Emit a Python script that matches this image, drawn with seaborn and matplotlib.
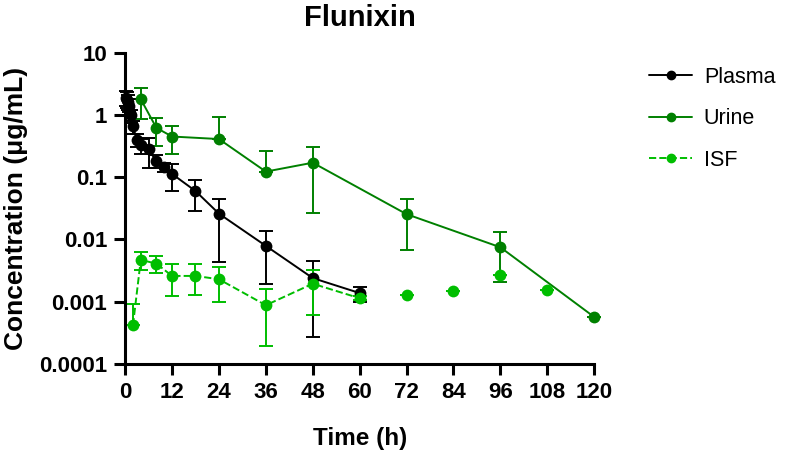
import matplotlib
matplotlib.use("Agg")
import matplotlib.pyplot as plt
import matplotlib.ticker as mticker
import numpy as np
import pandas as pd
import seaborn as sns

# Plasma (mean, lower / upper error ends)
plasma_time = [0.25, 0.5, 0.75, 1, 1.5, 2, 3, 4, 6, 8, 10, 12, 18, 24, 36, 48, 60]
plasma_conc = [1.9, 1.75, 1.6, 1.4, 1.0, 0.67, 0.39, 0.33, 0.28, 0.18, 0.145,
               0.113, 0.060, 0.026, 0.0079, 0.0024, 0.00138]
plasma_low = [1.4, 1.3, 1.2, 1.1, 0.75, 0.5, 0.3, 0.24, 0.14, 0.14, 0.12,
              0.061, 0.029, 0.0044, 0.0019, 0.00027, 0.00100]
plasma_high = [2.4, 2.3, 2.1, 1.8, 1.2, 0.8, 0.5, 0.41, 0.42, 0.23, 0.17,
               0.16, 0.091, 0.045, 0.0136, 0.0045, 0.0017]

# Urine
urine_time = [4, 8, 12, 24, 36, 48, 72, 96, 120]
urine_conc = [1.79, 0.62, 0.45, 0.41, 0.123, 0.171, 0.0255, 0.0075, 0.00057]
urine_low = [0.85, 0.32, 0.24, 0.41, 0.123, 0.027, 0.0068, 0.0021, 0.00057]
urine_high = [2.74, 0.90, 0.66, 0.93, 0.264, 0.31, 0.044, 0.0131, 0.00057]

# ISF (line drawn up to 60 h, later samples shown as points only)
isf_time = [2, 4, 8, 12, 18, 24, 36, 48, 60, 72, 84, 96, 108]
isf_conc = [0.00042, 0.0047, 0.0041, 0.0026, 0.0026, 0.0023, 0.00088, 0.00195,
            0.00114, 0.00128, 0.0015, 0.0027, 0.00155]
isf_low = [0.00042, 0.0032, 0.0029, 0.00126, 0.0013, 0.00099, 0.000195, 0.00062,
           0.00105, 0.00128, 0.0015, 0.0027, 0.00155]
isf_high = [0.00092, 0.0064, 0.0054, 0.0040, 0.0040, 0.0036, 0.00159, 0.0032,
            0.00125, 0.00128, 0.0015, 0.0027, 0.00155]
isf_line_until = 60

y_ticks = [0.0001, 0.001, 0.01, 0.1, 1, 10]
y_tick_labels = ["0.0001", "0.001", "0.01", "0.1", "1", "10"]
x_ticks = list(range(0, 121, 12))

sns.set_style("ticks")
plt.rcParams["font.family"] = ["Liberation Sans", "DejaVu Sans"]
for key in ["text.color", "axes.labelcolor", "xtick.color", "ytick.color",
            "axes.edgecolor"]:
    plt.rcParams[key] = "black"

fig, ax = plt.subplots(figsize=(7.87, 4.5), dpi=100)
fig.subplots_adjust(left=0.159, right=0.755, top=0.883, bottom=0.191)

series = [
    ("Plasma", plasma_time, plasma_conc, plasma_low, plasma_high, "black", "-"),
    ("Urine", urine_time, urine_conc, urine_low, urine_high, "#008000", "-"),
    ("ISF", isf_time, isf_conc, isf_low, isf_high, "#00BE00", "--"),
]

handles = []
for name, t, c, lo, hi, color, ls in series:
    df = pd.DataFrame({"t": t, "c": c, "lo": lo, "hi": hi})
    yerr = np.array([df["c"] - df["lo"], df["hi"] - df["c"]])
    ax.errorbar(df["t"], df["c"], yerr=yerr, fmt="none", ecolor=color,
                elinewidth=1.4, capsize=5, capthick=1.4, clip_on=False, zorder=2)
    line_df = df if name != "ISF" else df[df["t"] <= isf_line_until]
    sns.lineplot(data=line_df, x="t", y="c", ax=ax, color=color, linestyle=ls,
                 linewidth=1.4, marker="o", markersize=8.5, markeredgewidth=0,
                 estimator=None, clip_on=False, zorder=3)
    if name == "ISF":
        pts = df[df["t"] > isf_line_until]
        sns.scatterplot(data=pts, x="t", y="c", ax=ax, color=color, s=72,
                        linewidth=0, clip_on=False, zorder=3)
    handles.append(plt.Line2D([], [], color=color, linestyle=ls, linewidth=1.4,
                              marker="o", markersize=6, label=name))

ax.set_yscale("log")
ax.set_ylim(0.0001, 10)
ax.set_xlim(0, 120)
ax.yaxis.set_major_locator(mticker.FixedLocator(y_ticks))
ax.yaxis.set_major_formatter(mticker.FixedFormatter(y_tick_labels))
ax.yaxis.set_minor_locator(mticker.NullLocator())
ax.set_xticks(x_ticks)

for side in ["top", "right"]:
    ax.spines[side].set_visible(False)
for side in ["left", "bottom"]:
    ax.spines[side].set_linewidth(2.2)
ax.tick_params(axis="both", which="major", length=8, width=2.2, labelsize=16,
               direction="out", pad=5)
for lab in ax.get_xticklabels() + ax.get_yticklabels():
    lab.set_fontweight("bold")

ax.set_xlabel("Time (h)", fontsize=17.5, fontweight="bold", labelpad=17)
ax.set_ylabel("Concentration (\u03bcg/mL)", fontsize=19, fontweight="bold", labelpad=8)
ax.set_title("Flunixin", fontsize=21, fontweight="bold", pad=19)

if ax.get_legend() is not None:
    ax.get_legend().remove()
fig.legend(handles=handles, loc="upper left", bbox_to_anchor=(0.8, 0.895),
           frameon=False, fontsize=15.5, handlelength=2.0, labelspacing=0.95,
           handletextpad=0.55)

fig.savefig("out.png", dpi=100)
